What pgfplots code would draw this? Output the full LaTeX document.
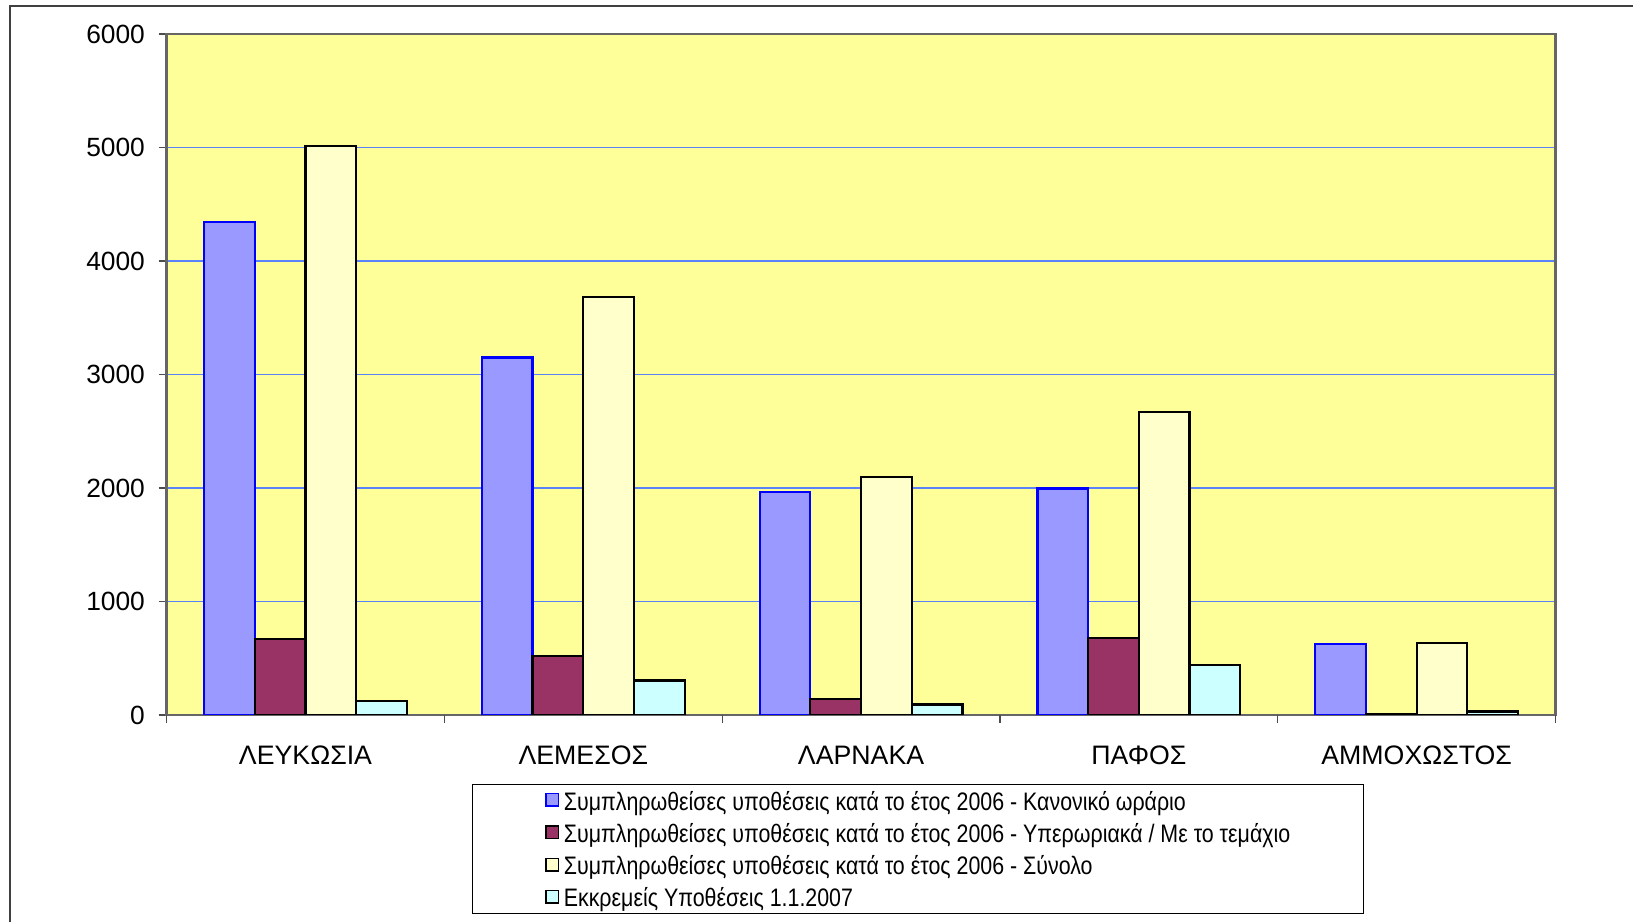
\documentclass[border=0pt]{standalone}
\usepackage{fontspec}
\setmainfont{Liberation Sans}
\newfontfamily\narrowfont[FakeStretch=0.845]{Liberation Sans}
\usepackage{pgfplots}
\pgfplotsset{compat=1.18}
\definecolor{bgY}{RGB}{255,255,153}
\definecolor{cBlue}{RGB}{153,153,255}
\definecolor{cMaroon}{RGB}{153,51,102}
\definecolor{cCream}{RGB}{255,255,204}
\definecolor{cCyan}{RGB}{204,255,255}
\definecolor{gridB}{RGB}{90,130,250}
\definecolor{frameG}{RGB}{64,64,64}
\begin{document}
\begin{tikzpicture}[x=1cm,y=1cm]
\useasboundingbox (0,0) rectangle (16.33,9.22);
\draw[line width=0.02cm, color=frameG] (0.10,0) -- (0.10,9.16) -- (16.33,9.16);
\begin{axis}[
  at={(1.666cm,2.07cm)}, anchor=south west,
  scale only axis, width=13.89cm, height=6.81cm,
  xmin=-0.5, xmax=4.5, ymin=0, ymax=6000,
  ybar=0pt, bar width=0.507cm,
  axis background/.style={fill=bgY},
  axis line style={draw=black!60, line width=0.025cm},
  ytick={0,1000,...,6000},
  ymajorgrids, grid style={color=gridB, line width=0.012cm},
  scaled y ticks=false,
  tick align=outside, major tick length=0.08cm,
  tick style={color=black!70, line width=0.012cm},
  ytick pos=left,
  yticklabel style={/pgf/number format/.cd, set thousands separator={}, assume math mode=true, /tikz/.cd, font=\fontsize{7.5}{9}\selectfont, inner sep=0pt, xshift=-0.13cm},
  xtick={0,1,2,3,4},
  xticklabels={ΛΕΥΚΩΣΙΑ, ΛΕΜΕΣΟΣ, ΛΑΡΝΑΚΑ, ΠΑΦΟΣ, ΑΜΜΟΧΩΣΤΟΣ},
  xtick pos=bottom,
  xticklabel style={font=\fontsize{7.6}{9}\selectfont, inner sep=0pt, yshift=-0.22cm},
  major x tick style={draw=none},
  extra x ticks={-0.5,0.5,1.5,2.5,3.5,4.5},
  extra x tick labels={},
  extra x tick style={major x tick style={draw=black!70}, grid=none},
  legend style={at={(0.2197,-0.1013)}, anchor=north west, draw=black, line width=0.012cm, fill=white,
    font=\narrowfont\fontsize{7.2}{8}\selectfont, inner xsep=0.73cm, inner ysep=0pt,
    row sep=0pt, column sep=0.045cm,
    nodes={inner sep=0pt, text height=0.255cm, text depth=0.068cm}},
  legend cell align=left,
  legend image code/.code={\draw[#1, line width=0.015cm] (0cm,-0.055cm) rectangle (0.125cm,0.07cm);},
]
\addplot[fill=cBlue, draw=blue, line width=0.022cm] coordinates {(0,4340) (1,3150) (2,1965) (3,1995) (4,625)};
\addplot[fill=cMaroon, draw=black, line width=0.022cm] coordinates {(0,670) (1,523) (2,138) (3,680) (4,10)};
\addplot[fill=cCream, draw=black, line width=0.022cm] coordinates {(0,5010) (1,3680) (2,2100) (3,2670) (4,633)};
\addplot[fill=cCyan, draw=black, line width=0.022cm] coordinates {(0,120) (1,303) (2,92) (3,440) (4,30)};
\legend{Συμπληρωθείσες υποθέσεις κατά το έτος 2006 - Κανονικό ωράριο,
        Συμπληρωθείσες υποθέσεις κατά το έτος 2006 - Υπερωριακά / Με το τεμάχιο,
        Συμπληρωθείσες υποθέσεις κατά το έτος 2006 - Σύνολο,
        Εκκρεμείς Υποθέσεις 1.1.2007}
\end{axis}
\end{tikzpicture}
\end{document}
